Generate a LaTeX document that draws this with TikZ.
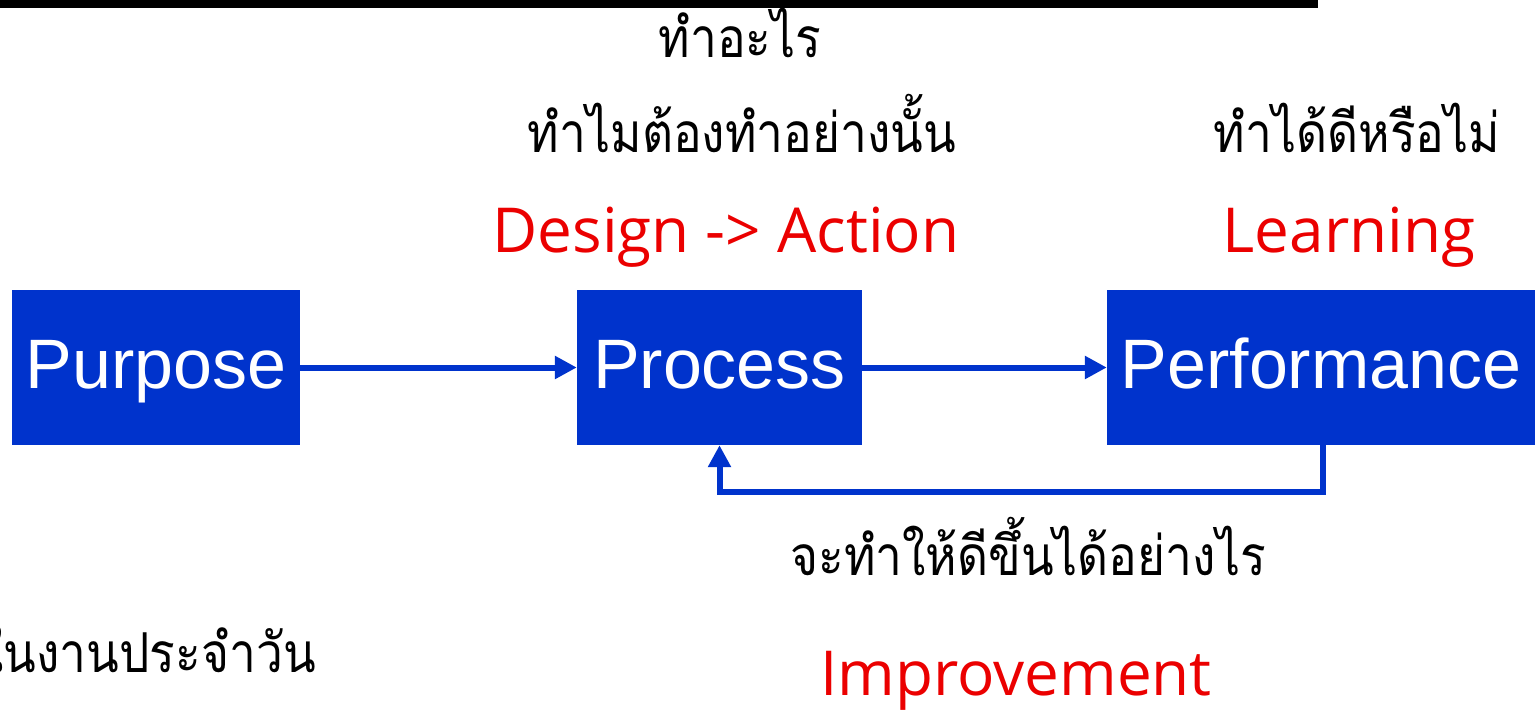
\documentclass[tikz,border=0pt]{standalone}
\usepackage{fontspec}
\usepackage{graphicx}
\usetikzlibrary{arrows.meta}
\setmainfont{Liberation Sans}
\newfontfamily\thaifont[Script=Thai]{Loma}
\newfontfamily\redfont{Open Sans}
\definecolor{boxblue}{RGB}{0,51,204}
\definecolor{lblred}{RGB}{235,0,0}
\newcommand{\thaitxt}[1]{\scalebox{0.87}[1]{#1}}
\tikzset{
  pbox/.style={fill=boxblue, draw=none, text=white, inner sep=0pt,
    minimum height=155pt, font=\fontsize{70}{80}\selectfont,
    text height=50pt, text depth=8pt},
  thai/.style={font=\thaifont\fontsize{55}{60}\selectfont, text=black, inner sep=0pt, anchor=base},
  red/.style={font=\redfont\fontsize{62}{70}\selectfont, text=lblred, inner sep=0pt, anchor=base},
  arr/.style={draw=boxblue, line width=6pt, -{Triangle[length=22pt,width=22pt]}}
}
\begin{document}
\begin{tikzpicture}[x=1pt,y=-1pt]
\useasboundingbox[fill=white] (0,0) rectangle (1537,712);
\fill[black] (0,0) rectangle (1318,8);
% boxes
\node[pbox, minimum width=288pt] (purp) at (156,367.5) {Purpose};
\node[pbox, minimum width=285pt] (proc) at (719.5,367.5) {Process};
\node[pbox, minimum width=428pt] (perf) at (1321,367.5) {Performance};
% connectors
\draw[arr] (purp.east) -- (proc.west);
\draw[arr] (proc.east) -- (perf.west);
\coordinate (fb) at (1323,492);
\draw[arr] (perf.south -| fb) -- (fb) -| (proc.south);
% labels
\node[thai] (t1) at (740,57) {\thaitxt{ทำอะไร}};
\node[thai] (t2) at (742,152) {\thaitxt{ทำไมต้องทำอย่างนั้น}};
\node[red] (r1) at (726,252) {Design -> Action};
\node[thai] (t3) at (1357,152) {\thaitxt{ทำได้ดีหรือไม่}};
\node[red] (r2) at (1349,252) {Learning};
\node[thai] (t4) at (1028,575) {\thaitxt{จะทำให้ดีขึ้นได้อย่างไร}};
\node[red] (r3) at (1016,695) {Improvement};
\node[thai, anchor=base east] (t5) at (316,672) {\thaitxt{ในงานประจำวัน}};
\end{tikzpicture}
\end{document}
